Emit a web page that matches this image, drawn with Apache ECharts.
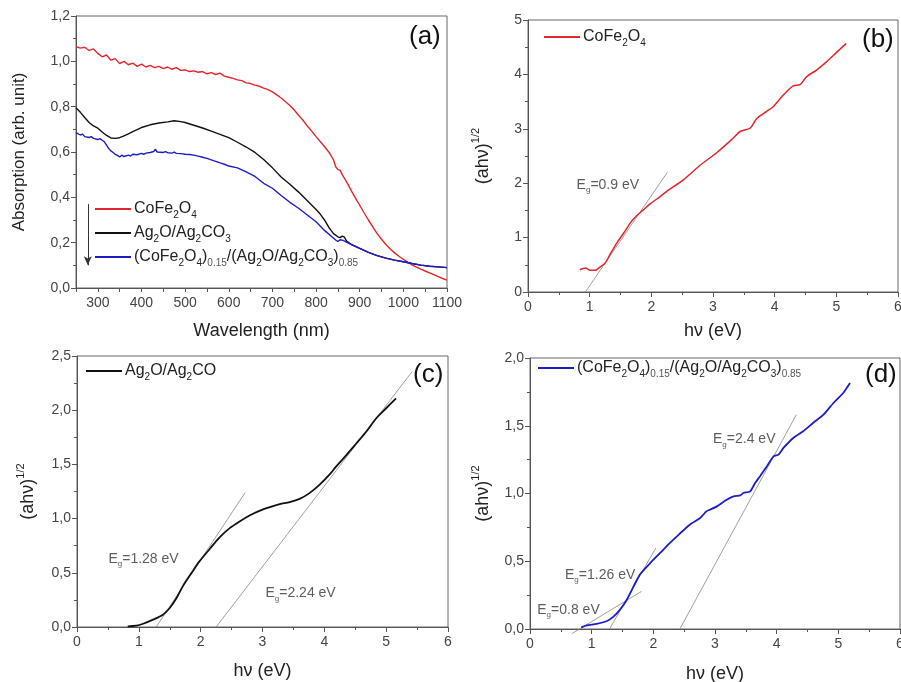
<!DOCTYPE html>
<html>
<head>
<meta charset="utf-8">
<script src="https://cdn.jsdelivr.net/npm/echarts@6/dist/echarts.min.js"></script>
<style>
  html, body { margin: 0; padding: 0; background: #fff; }
  #main { width: 901px; height: 682px; }
</style>
</head>
<body>
<div id="main"></div>
<script>
// (a) absorption spectra: [wavelength nm, absorption]
const redA = [[250,1.065],[260,1.058],[270,1.062],[280,1.048],[290,1.055],[300,1.035],[310,1.02],[320,1.028],[330,1.005],[340,1.012],[350,0.99],[360,1.0],[370,0.985],[380,0.992],[390,0.978],[400,0.988],[410,0.975],[420,0.982],[430,0.972],[440,0.978],[450,0.968],[460,0.975],[470,0.965],[480,0.972],[490,0.96],[500,0.962],[510,0.955],[520,0.958],[530,0.952],[540,0.955],[550,0.945],[560,0.95],[570,0.942],[580,0.948],[590,0.935],[600,0.93],[610,0.925],[620,0.918],[630,0.915],[640,0.905],[650,0.902],[660,0.895],[670,0.89],[680,0.882],[690,0.875],[700,0.865],[710,0.852],[720,0.838],[730,0.822],[740,0.805],[750,0.785],[760,0.762],[770,0.74],[780,0.715],[790,0.692],[800,0.668],[810,0.645],[820,0.622],[830,0.598],[840,0.565],[845,0.535],[850,0.522],[855,0.52],[860,0.5],[870,0.468],[880,0.432],[890,0.398],[900,0.365],[910,0.332],[920,0.3],[930,0.27],[940,0.24],[950,0.215],[960,0.192],[970,0.172],[980,0.155],[990,0.14],[1000,0.127],[1010,0.114],[1020,0.102],[1030,0.092],[1040,0.083],[1050,0.075],[1060,0.067],[1070,0.059],[1080,0.05],[1090,0.042],[1100,0.035]];
const blackA = [[250,0.795],[260,0.775],[270,0.752],[280,0.73],[290,0.715],[300,0.705],[310,0.688],[320,0.673],[330,0.662],[340,0.66],[350,0.663],[360,0.671],[370,0.68],[380,0.69],[400,0.708],[420,0.72],[440,0.728],[460,0.733],[475,0.738],[490,0.734],[500,0.73],[520,0.718],[540,0.706],[560,0.692],[580,0.678],[600,0.663],[620,0.643],[640,0.622],[660,0.598],[680,0.567],[700,0.53],[720,0.49],[740,0.458],[760,0.423],[780,0.385],[800,0.346],[810,0.325],[820,0.298],[830,0.265],[840,0.24],[850,0.226],[855,0.222],[860,0.229],[865,0.224],[870,0.207],[880,0.193],[900,0.175],[920,0.157],[940,0.143],[960,0.132],[980,0.123],[1000,0.116],[1020,0.108],[1040,0.101],[1060,0.096],[1080,0.093],[1100,0.09]];
const blueA = [[250,0.685],[260,0.675],[265,0.679],[270,0.668],[280,0.664],[285,0.668],[290,0.66],[300,0.655],[305,0.659],[310,0.652],[315,0.645],[320,0.63],[325,0.615],[330,0.605],[335,0.598],[340,0.59],[345,0.585],[350,0.578],[355,0.586],[360,0.58],[370,0.586],[375,0.582],[380,0.59],[390,0.588],[400,0.594],[405,0.59],[410,0.595],[420,0.598],[428,0.602],[432,0.612],[436,0.6],[450,0.598],[455,0.602],[460,0.597],[470,0.595],[475,0.599],[480,0.594],[490,0.593],[500,0.59],[510,0.589],[520,0.586],[530,0.582],[540,0.577],[550,0.572],[560,0.565],[570,0.559],[580,0.552],[590,0.546],[600,0.538],[620,0.53],[640,0.512],[660,0.492],[680,0.462],[700,0.44],[720,0.408],[740,0.378],[760,0.352],[780,0.322],[800,0.292],[820,0.253],[835,0.228],[845,0.212],[850,0.205],[855,0.213],[862,0.21],[880,0.192],[900,0.175],[920,0.157],[940,0.143],[960,0.132],[980,0.123],[1000,0.116],[1020,0.108],[1040,0.101],[1060,0.096],[1080,0.093],[1100,0.09]];
const arrowA = [[277,0.37],[277,0.10]];

// (b) CoFe2O4 Tauc plot: [hv eV, (ahv)^1/2]
const redB = [[0.84,0.41],[0.93,0.44],[1.01,0.40],[1.09,0.40],[1.17,0.46],[1.25,0.53],[1.33,0.69],[1.44,0.90],[1.55,1.08],[1.66,1.27],[1.76,1.40],[1.87,1.51],[1.98,1.62],[2.09,1.71],[2.25,1.85],[2.52,2.06],[2.79,2.33],[3.06,2.56],[3.33,2.83],[3.44,2.95],[3.6,3.01],[3.71,3.19],[3.87,3.32],[3.98,3.41],[4.14,3.62],[4.3,3.79],[4.41,3.81],[4.52,3.96],[4.68,4.08],[4.84,4.23],[5.0,4.40],[5.16,4.57]];
const tanB = [[0.93,0],[2.26,2.2]];
const lblB = [[0.78,1.97]];

// (c) Ag2O/Ag2CO3
const blackC = [[0.82,0.006],[0.96,0.012],[1.07,0.03],[1.23,0.068],[1.39,0.114],[1.5,0.175],[1.61,0.267],[1.71,0.375],[1.85,0.497],[1.98,0.605],[2.15,0.722],[2.31,0.829],[2.47,0.912],[2.63,0.974],[2.79,1.029],[2.95,1.072],[3.12,1.106],[3.28,1.133],[3.44,1.152],[3.6,1.182],[3.76,1.235],[3.92,1.311],[4.09,1.41],[4.19,1.48],[4.36,1.588],[4.52,1.695],[4.68,1.803],[4.84,1.926],[5.0,2.018],[5.16,2.11]];
const tanC1 = [[1.28,0],[2.72,1.24]];
const tanC2 = [[2.25,0],[5.42,2.356]];
const lblC = [[0.5,0.63],[3.04,0.31]];

// (d) composite
const blueD = [[0.83,0.012],[0.92,0.027],[1.08,0.037],[1.24,0.057],[1.35,0.089],[1.46,0.143],[1.57,0.216],[1.68,0.315],[1.78,0.401],[1.95,0.487],[2.11,0.561],[2.27,0.635],[2.43,0.704],[2.59,0.77],[2.76,0.819],[2.86,0.868],[2.92,0.881],[3.03,0.905],[3.19,0.954],[3.3,0.979],[3.41,0.986],[3.46,1.004],[3.57,1.016],[3.65,1.077],[3.73,1.127],[3.84,1.2],[3.95,1.274],[4.03,1.287],[4.11,1.336],[4.27,1.41],[4.43,1.459],[4.59,1.52],[4.76,1.582],[4.92,1.668],[5.08,1.742],[5.19,1.815]];
const tanD1 = [[0.68,-0.034],[1.81,0.278]];
const tanD2 = [[1.29,0],[2.04,0.598]];
const tanD3 = [[2.43,0],[4.32,1.582]];
const lblD = [[2.96,1.40],[0.56,0.40],[0.11,0.14]];

const egB = ['0.9'];
const egC = ['1.28', '2.24'];
const egD = ['2.4', '1.26', '0.8'];

const FONT = 'Liberation Sans, Arial, sans-serif';
const RED = '#e3262b', BLUE = '#1d1dc8', BLACK = '#111', TAN = '#888';

const legRich = {
  n: { fontSize: 16, color: '#222', lineHeight: 22, fontFamily: FONT },
  s: { fontSize: 10, color: '#222', lineHeight: 14, verticalAlign: 'bottom', fontFamily: FONT },
  t: { fontSize: 10, color: '#555', lineHeight: 14, verticalAlign: 'bottom', fontFamily: FONT }
};
const legText = {
  a_red: '{n|CoFe}{s|2}{n|O}{s|4}',
  a_black: '{n|Ag}{s|2}{n|O/Ag}{s|2}{n|CO}{s|3}',
  a_blue: '{n|(CoFe}{s|2}{n|O}{s|4}{n|)}{t|0.15}{n|/(Ag}{s|2}{n|O/Ag}{s|2}{n|CO}{s|3}{n|)}{t|0.85}',
  b_red: '{n|CoFe}{s|2}{n|O}{s|4}',
  c_black: '{n|Ag}{s|2}{n|O/Ag}{s|2}{n|CO}',
  d_blue: '{n|(CoFe}{s|2}{n|O}{s|4}{n|)}{t|0.15}{n|/(Ag}{s|2}{n|O/Ag}{s|2}{n|CO}{s|3}{n|)}{t|0.85}'
};

function legend(names, left, top) {
  return {
    data: names, orient: 'vertical', left: left, top: top,
    icon: 'rect', itemWidth: 36, itemHeight: 2, itemGap: 5, padding: 0,
    selectedMode: false,
    formatter: n => legText[n],
    textStyle: { rich: legRich, padding: [0, 0, 0, -2] }
  };
}

const comma = v => v.toFixed(1).replace('.', ',');

function xAxis(i, min, max, interval, name, gap, fmt) {
  return {
    gridIndex: i, type: 'value', min: min, max: max, interval: interval,
    name: name, nameLocation: 'middle', nameGap: gap,
    nameTextStyle: { fontSize: 18, color: '#222', fontFamily: FONT },
    axisLine: { show: true, lineStyle: { color: '#555', width: 1 } },
    axisTick: { show: true, length: interval === 1 ? 5 : 4, lineStyle: { color: '#555' } },
    minorTick: { show: interval === 1, splitNumber: 2, length: 3, lineStyle: { color: '#555' } },
    splitLine: { show: false },
    axisLabel: { fontSize: 14, color: '#444', margin: 8, fontFamily: FONT, showMaxLabel: true, formatter: fmt }
  };
}

const supName = {
  n: { fontSize: 18, color: '#222', lineHeight: 26, fontFamily: FONT },
  p: { fontSize: 11, color: '#222', lineHeight: 12, verticalAlign: 'top', fontFamily: FONT }
};

function yAxis(i, max, interval, name, gap, fmt) {
  return {
    gridIndex: i, type: 'value', min: 0, max: max, interval: interval,
    name: name, nameLocation: 'middle', nameGap: gap,
    nameTextStyle: { fontSize: 17, color: '#222', fontFamily: FONT, rich: supName },
    axisLine: { show: true, lineStyle: { color: '#555', width: 1 } },
    axisTick: { show: true, length: 5, lineStyle: { color: '#555' } },
    minorTick: { show: true, splitNumber: 2, length: 3, lineStyle: { color: '#555' } },
    splitLine: { show: false },
    axisLabel: { fontSize: 14, color: '#444', margin: 6, fontFamily: FONT, formatter: fmt }
  };
}

function curve(name, i, data, color, width, smooth) {
  return {
    name: name, type: 'line', xAxisIndex: i, yAxisIndex: i, data: data,
    showSymbol: false, symbol: 'none', smooth: smooth || false,
    color: color, lineStyle: { color: color, width: width },
    itemStyle: { color: color }, silent: true, z: 3
  };
}

function tangent(i, data) {
  return {
    type: 'line', xAxisIndex: i, yAxisIndex: i, data: data, clip: false,
    symbol: 'none', lineStyle: { color: TAN, width: 0.8 }, silent: true, z: 2
  };
}

const egRich = {
  e: { fontSize: 14, color: '#333', lineHeight: 18, fontFamily: FONT },
  g: { fontSize: 8, color: '#333', lineHeight: 10, verticalAlign: 'bottom', fontFamily: FONT }
};

function egLabels(i, pts, vals) {
  return {
    type: 'scatter', xAxisIndex: i, yAxisIndex: i, symbolSize: 1,
    itemStyle: { color: 'rgba(0,0,0,0)' }, silent: true,
    data: pts,
    label: {
      show: true, position: 'right', distance: 0,
      formatter: p => '{e|E}{g|g}{e|=' + vals[p.dataIndex] + ' eV}',
      rich: egRich
    }
  };
}

function panelTitle(txt, left, top) {
  return { text: txt, left: left, top: top, padding: 0,
    textStyle: { fontSize: 26, fontWeight: 'normal', color: '#111', fontFamily: FONT } };
}

const chart = echarts.init(document.getElementById('main'), null, { renderer: 'canvas' });

chart.setOption({
  backgroundColor: '#fff',
  animation: false,
  title: [
    panelTitle('(a)', 409, 24),
    panelTitle('(b)', 862, 27),
    panelTitle('(c)', 413, 362),
    panelTitle('(d)', 865, 362)
  ],
  legend: [
    legend(['a_red', 'a_black', 'a_blue'], 95, 201),
    legend(['b_red'], 544, 29),
    legend(['c_black'], 86, 363),
    legend(['d_blue'], 538, 360)
  ],
  grid: [
    { left: 76, top: 16, width: 371, height: 272, show: true, borderColor: '#666', borderWidth: 1, backgroundColor: 'transparent', outerBoundsMode: 'none' },
    { left: 528, top: 20, width: 370, height: 272, show: true, borderColor: '#666', borderWidth: 1, backgroundColor: 'transparent', outerBoundsMode: 'none' },
    { left: 77, top: 356, width: 371, height: 271, show: true, borderColor: '#666', borderWidth: 1, backgroundColor: 'transparent', outerBoundsMode: 'none' },
    { left: 530, top: 358, width: 370, height: 271, show: true, borderColor: '#666', borderWidth: 1, backgroundColor: 'transparent', outerBoundsMode: 'none' }
  ],
  xAxis: [
    xAxis(0, 250, 1100, 50, 'Wavelength (nm)', 34, v => (v % 100 === 0 ? String(v) : '')),
    xAxis(1, 0, 6, 1, 'hν (eV)', 30),
    xAxis(2, 0, 6, 1, 'hν (eV)', 35),
    xAxis(3, 0, 6, 1, 'hν (eV)', 36)
  ],
  yAxis: [
    yAxis(0, 1.2, 0.2, 'Absorption (arb. unit)', 48, comma),
    yAxis(1, 5, 1, '{n|(ahν)}{p|1/2}', 32, v => String(v)),
    yAxis(2, 2.5, 0.5, '{n|(ahν)}{p|1/2}', 36, comma),
    yAxis(3, 2, 0.5, '{n|(ahν)}{p|1/2}', 34, comma)
  ],
  series: [
    curve('a_red', 0, redA, RED, 1.4),
    curve('a_black', 0, blackA, BLACK, 1.4),
    curve('a_blue', 0, blueA, BLUE, 1.4),
    {
      type: 'line', xAxisIndex: 0, yAxisIndex: 0, data: [], silent: true,
      markLine: {
        silent: true, symbol: ['none', 'arrow'], symbolSize: [6, 9],
        label: { show: false },
        lineStyle: { color: '#333', width: 1, type: 'solid' },
        data: [[{ coord: arrowA[0] }, { coord: arrowA[1] }]]
      }
    },
    curve('b_red', 1, redB, RED, 1.5, 0.3),
    tangent(1, tanB),
    egLabels(1, lblB, egB),
    curve('c_black', 2, blackC, BLACK, 1.8, 0.3),
    tangent(2, tanC1),
    tangent(2, tanC2),
    egLabels(2, lblC, egC),
    curve('d_blue', 3, blueD, BLUE, 1.8, 0.2),
    tangent(3, tanD1),
    tangent(3, tanD2),
    tangent(3, tanD3),
    egLabels(3, lblD, egD)
  ]
});
</script>
</body>
</html>
